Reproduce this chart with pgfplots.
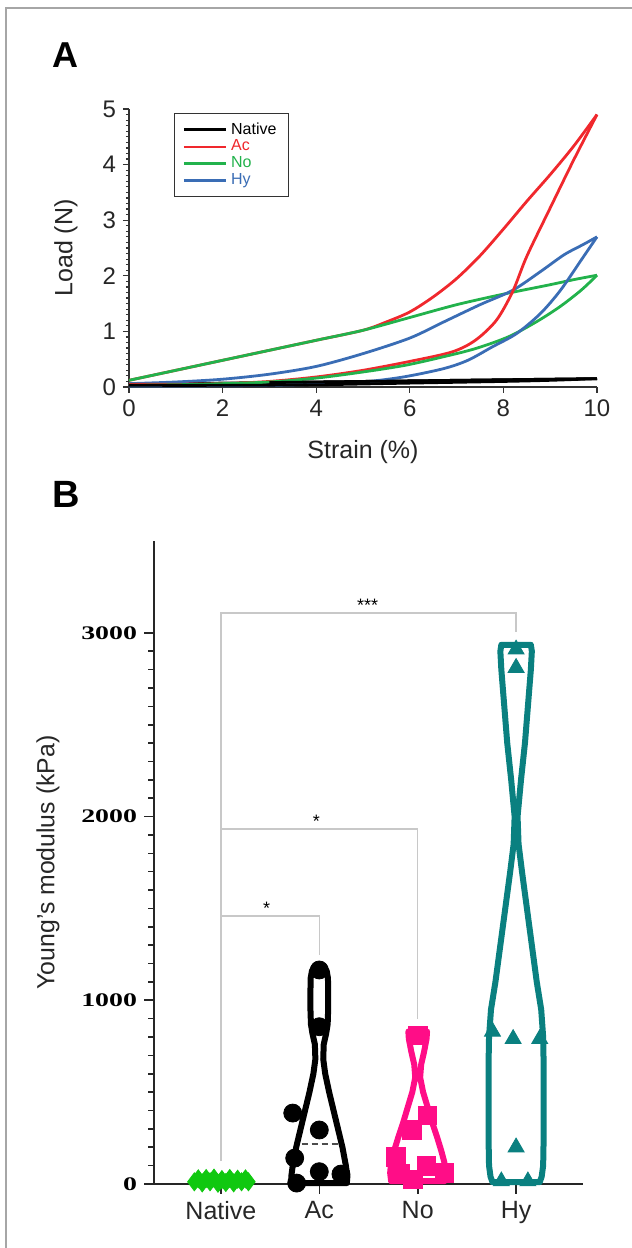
\documentclass[border=0pt]{standalone}
\usepackage{fontspec}
\setmainfont{Liberation Sans}
\newfontfamily\serifb{Liberation Serif}
\usepackage{graphicx}
\usepackage{pgfplots}
\pgfplotsset{compat=1.18}

\definecolor{acred}{HTML}{F0282D}
\definecolor{nogreen}{HTML}{22B24C}
\definecolor{hyblue}{HTML}{3A6DB5}
\definecolor{vgreen}{HTML}{10C810}
\definecolor{vpink}{HTML}{FF0D87}
\definecolor{vteal}{HTML}{0A8080}
\definecolor{brk}{HTML}{C8C8C8}
\newcommand\ytl[1]{\scalebox{1.45}[1]{\serifb\bfseries #1}}

\begin{document}
\begin{tikzpicture}
\useasboundingbox (0,0) rectangle (316pt,624pt);
\draw[gray!70, line width=0.6pt] (3pt,0) -- (3pt,620pt) -- (316pt,620pt);

\node[anchor=base west, inner sep=0pt, font=\fontsize{18}{18}\selectfont\bfseries] at (26pt,590pt) {A};
\node[anchor=base west, inner sep=0pt, font=\fontsize{19}{19}\selectfont\bfseries] at (26pt,370pt) {B};

% ---------------- panel A: load vs strain
\begin{axis}[
  at={(64.5pt,430.5pt)}, anchor=south west,
  scale only axis, width=234pt, height=139pt,
  xmin=0, xmax=10, ymin=0, ymax=5,
  axis lines=left, axis line style={-, line width=0.8pt, black!80},
  xtick={0,2,...,10}, ytick={0,1,...,5},
  minor y tick num=9,
  tick align=outside,
  major tick length=3pt, minor tick length=1.5pt,
  tick style={black!80, line width=0.6pt},
  ticklabel style={font=\fontsize{12}{12}\selectfont, text=black!85},
  /pgf/number format/assume math mode=true,
  xlabel={Strain (\%)}, ylabel={Load (N)},
  label style={font=\fontsize{12.5}{12.5}\selectfont, text=black!85},
  xlabel style={at={(axis description cs:0.5,-0.234)}, anchor=center},
  ylabel style={at={(axis description cs:-0.135,0.5)}, anchor=center},
  legend style={at={(axis description cs:0.096,0.986)}, anchor=north west,
    font=\fontsize{8}{8}\selectfont, draw=black!80, line width=0.6pt,
    inner xsep=4pt, inner ysep=2.5pt, row sep=-2.6pt},
  legend cell align=left,
  legend image code/.code={\draw[#1, line width=1.3pt] (0pt,0pt) -- (21pt,0pt);},
  every axis plot/.append style={line width=1.4pt},
  clip=false,
]
\addplot[black, smooth] coordinates {
(0,0.05) (2,0.07) (4,0.09) (6,0.11) (8,0.13) (10,0.15)};
\addlegendentry{Native}
\addplot[acred, smooth] coordinates {
(0,0.12) (1,0.30) (2,0.48) (3,0.66) (4,0.84) (5,1.02) (5.5,1.17) (6,1.35)
(6.5,1.62) (7,1.95) (7.5,2.36) (8,2.84) (8.5,3.34) (9,3.82) (9.5,4.33) (10,4.90)};
\addlegendentry{\textcolor{acred}{Ac}}
\addplot[nogreen, smooth] coordinates {
(0,0.12) (1,0.30) (2,0.48) (3,0.66) (4,0.84) (5,1.02) (6,1.25) (7,1.48)
(8,1.67) (9,1.84) (9.5,1.93) (10,2.01)};
\addlegendentry{\textcolor{nogreen}{No}}
\addplot[hyblue, smooth] coordinates {
(0,0.06) (1,0.09) (2,0.14) (3,0.23) (4,0.37) (5,0.60) (6,0.88) (6.7,1.16)
(7.5,1.48) (8.2,1.74) (8.8,2.08) (9.3,2.38) (9.7,2.56) (10,2.70)};
\addlegendentry{\textcolor{hyblue}{Hy}}
% unloading branches
\addplot[acred, smooth, forget plot] coordinates {
(10,4.90) (9.5,4.08) (9,3.22) (8.5,2.35) (8.2,1.72) (7.85,1.20) (7.4,0.84) (6.9,0.63)
(6,0.46) (5,0.30) (4,0.18) (3,0.10) (2,0.06) (1,0.05) (0,0.05)};
\addplot[nogreen, smooth, forget plot] coordinates {
(10,2.01) (9.66,1.74) (9.2,1.44) (8.7,1.17) (8.1,0.90) (7.4,0.69) (6.7,0.54) (5.9,0.39)
(5,0.27) (4,0.16) (3,0.09) (2,0.06) (1,0.04) (0,0.03)};
\addplot[hyblue, smooth, forget plot] coordinates {
(10,2.70) (9.66,2.28) (9.22,1.74) (8.79,1.32) (8.28,0.96) (7.76,0.72) (7.24,0.48)
(6.72,0.33) (5.86,0.18) (5,0.09) (4,0.05) (3,0.03) (1.5,0.02) (0,0.02)};
\addplot[black, smooth, forget plot] coordinates {
(3,0.08) (4,0.09) (6,0.11) (8,0.13) (10,0.15)};
\addplot[black, smooth, forget plot] coordinates {
(10,0.15) (9,0.12) (8,0.10) (6,0.07) (4,0.04) (2,0.03) (0,0.03)};
\end{axis}

% ---------------- panel B: violin plot of Young's modulus
\begin{axis}[
  at={(77pt,32pt)}, anchor=south west,
  scale only axis, width=214.5pt, height=321.5pt,
  xmin=-0.68, xmax=3.68, ymin=0, ymax=3500,
  axis lines=left, axis line style={-, line width=1pt, black!85},
  xtick={0,1,2,3}, xticklabels={Native,Ac,No,Hy},
  ytick={0,1000,2000,3000},
  yticklabels={\ytl{0},\ytl{1000},\ytl{2000},\ytl{3000}},
  minor y tick num=9,
  tick align=outside, major tick length=5pt, minor tick length=3pt,
  tick style={black!85, line width=0.8pt},
  xticklabel style={font=\fontsize{12.5}{12.5}\selectfont, text=black!85},
  yticklabel style={font=\fontsize{9.6}{9.6}\selectfont},
  ylabel={Young's modulus (kPa)},
  ylabel style={at={(axis description cs:-0.247,0.5)}, anchor=center,
    font=\fontsize{12.4}{12.4}\selectfont, text=black!85},
  clip=false,
]
% significance brackets
\addplot[brk, line width=0.7pt] coordinates {(0,125) (0,3108) (3,3108) (3,3006)};
\addplot[brk, line width=0.7pt] coordinates {(0,1932) (2,1932) (2,897)};
\addplot[brk, line width=0.7pt] coordinates {(0,1459) (1,1459) (1,1245)};
\node[anchor=base, inner sep=0pt, font=\fontsize{9}{9}\selectfont] at (axis cs:1.49,3118) {***};
\node[anchor=base, inner sep=0pt, font=\fontsize{9}{9}\selectfont] at (axis cs:0.97,1940) {*};
\node[anchor=base, inner sep=0pt, font=\fontsize{9}{9}\selectfont] at (axis cs:0.465,1468) {*};

% Native
\addplot[vgreen, line width=3pt] coordinates {(-0.29,15) (0.29,15)};
\addplot[only marks, mark=diamond*, mark size=4.5pt, vgreen] coordinates {
(-0.27,12) (-0.23,28) (-0.19,6) (-0.15,30) (-0.11,12) (-0.07,32) (-0.03,4)
(0.01,24) (0.05,8) (0.09,30) (0.13,6) (0.17,26) (0.21,12) (0.25,28) (0.28,12)};

% Ac
\addplot[black, line width=3pt, line join=round] coordinates {
(0.72,5) (0.715,40) (0.73,100) (0.765,200) (0.81,300) (0.855,400) (0.90,500)
(0.94,600) (0.96,680) (0.955,760) (0.93,820) (0.915,870) (0.91,950) (0.91,1050)
(0.912,1120) (0.925,1160) (0.955,1185) (1,1195)
(1.045,1185) (1.075,1160) (1.088,1120) (1.09,1050) (1.09,950) (1.085,870)
(1.07,820) (1.045,760) (1.04,680) (1.06,600) (1.10,500) (1.145,400) (1.19,300)
(1.235,200) (1.27,100) (1.285,40) (1.28,5)} -- cycle;
\addplot[black!70, densely dashed, line width=0.6pt] coordinates {(0.82,218) (1.19,218)};
\addplot[only marks, mark=*, mark size=4.5pt, black] coordinates {
(1,1165) (1,856) (0.73,386) (1,294) (0.75,141) (0.77,5) (1,67) (1.22,54)};

% No
\addplot[vpink, line width=3pt, line join=round] coordinates {
(1.73,15) (1.72,60) (1.73,120) (1.76,180) (1.80,250) (1.85,330) (1.90,420)
(1.945,500) (1.975,580) (1.965,650) (1.935,720) (1.91,790) (1.905,830)
(2.095,830) (2.09,790) (2.065,720) (2.035,650) (2.025,580) (2.055,500)
(2.10,420) (2.15,330) (2.20,250) (2.24,180) (2.27,120) (2.28,60) (2.27,15)} -- cycle;
\addplot[only marks, mark=square*, mark size=4.6pt, vpink] coordinates {
(2,810) (2.1,375) (1.94,294) (1.78,148) (1.82,58) (1.95,25) (2.09,98) (2.27,60)};

% Hy
\addplot[vteal, line width=3pt, line join=round] coordinates {
(2.76,10) (2.74,40) (2.725,100) (2.72,250) (2.72,450) (2.72,650) (2.725,800)
(2.745,950) (2.79,1100) (2.84,1300) (2.89,1500) (2.94,1700) (2.975,1850)
(2.985,2000) (2.95,2200) (2.91,2400) (2.88,2600) (2.85,2800) (2.84,2900) (2.85,2935)
(3.15,2935) (3.16,2900) (3.15,2800) (3.12,2600) (3.09,2400) (3.05,2200)
(3.015,2000) (3.025,1850) (3.06,1700) (3.11,1500) (3.16,1300) (3.21,1100)
(3.255,950) (3.275,800) (3.28,650) (3.28,450) (3.28,250) (3.275,100) (3.26,40) (3.24,10)} -- cycle;
\addplot[only marks, mark=triangle*, mark size=4.6pt, vteal] coordinates {
(3,2910) (3,2810) (2.76,830) (2.97,790) (3.24,790) (3,200) (2.85,15) (3.12,15)};
\end{axis}
\end{tikzpicture}
\end{document}
